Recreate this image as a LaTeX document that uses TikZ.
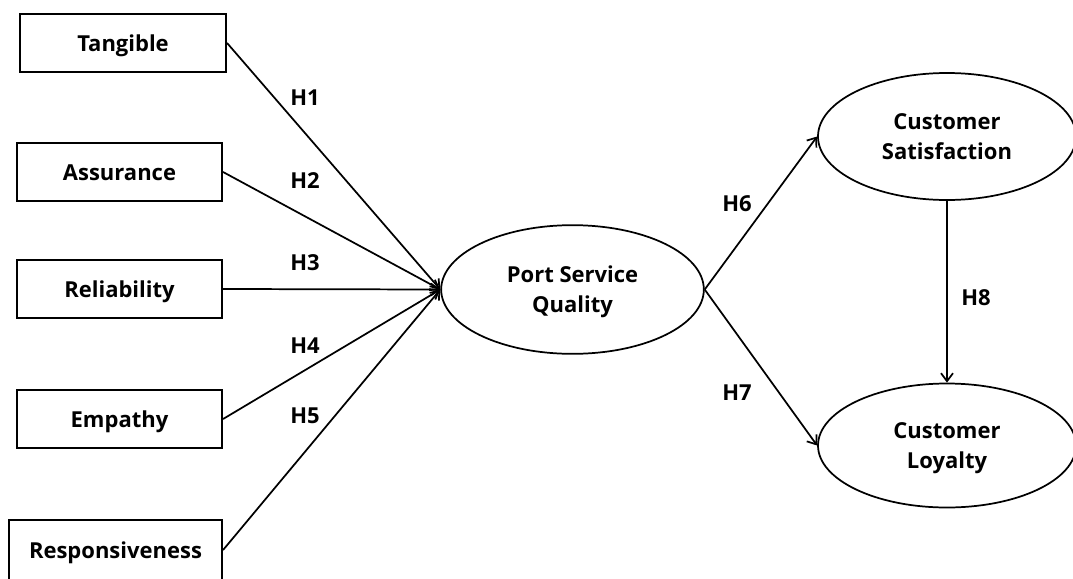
\documentclass[tikz,border=0pt]{standalone}
\usepackage{fontspec}
\setmainfont{Open Sans}
\usetikzlibrary{arrows.meta,shapes.geometric}
\begin{document}
\begin{tikzpicture}[x=0.75pt,y=-0.75pt,
  every node/.style={font=\fontsize{16.5}{22.5}\selectfont\bfseries},
  factor/.style={draw,line width=1.6pt,rectangle,inner sep=0pt,minimum height=43.5pt,text depth=0pt,text height=13pt},
  construct/.style={draw,line width=1.3pt,ellipse,inner sep=0pt,align=center,minimum width=197pt,minimum height=96.5pt,text depth=0pt},
  link/.style={line width=1.3pt,-{Straight Barb[length=6pt,width=9pt,line width=1.3pt]}},
  hyp/.style={inner sep=0pt}]
\useasboundingbox (0,0) rectangle (1073,578);
\node[factor,minimum width=154.5pt] (tang) at (123,43) {Tangible};
\node[factor,minimum width=153.75pt] (assu) at (119.5,172) {Assurance};
\node[factor,minimum width=153.75pt] (reli) at (119.5,289) {Reliability};
\node[factor,minimum width=153.75pt] (empa) at (119.5,419) {Empathy};
\node[factor,minimum width=159.75pt,minimum height=45pt] (resp) at (115.5,550) {Responsiveness};
\node[construct] (psq) at (572.5,289.5) {Port Service\\Quality};
\node[construct,minimum width=193.5pt,minimum height=95.25pt] (cs) at (947,136.5) {Customer\\Satisfaction};
\node[construct,minimum width=193.5pt,minimum height=93pt] (cl) at (947,445.5) {Customer\\Loyalty};
\draw[link] (tang.east) -- (psq.west);
\draw[link] (assu.east) -- (psq.west);
\draw[link] (reli.east) -- (psq.west);
\draw[link] (empa.east) -- (psq.west);
\draw[link] (resp.east) -- (psq.west);
\draw[link] (psq.east) -- (cs.west);
\draw[link] (psq.east) -- (cl.west);
\draw[link] (cs.south) -- (cl.north);
\node[hyp] (h1) at (305,98) {H1};
\node[hyp] (h2) at (305,181) {H2};
\node[hyp] (h3) at (305,263) {H3};
\node[hyp] (h4) at (305,346) {H4};
\node[hyp] (h5) at (305,416) {H5};
\node[hyp] (h6) at (737,204) {H6};
\node[hyp] (h7) at (737,393) {H7};
\node[hyp] (h8) at (976,298) {H8};
\end{tikzpicture}
\end{document}
